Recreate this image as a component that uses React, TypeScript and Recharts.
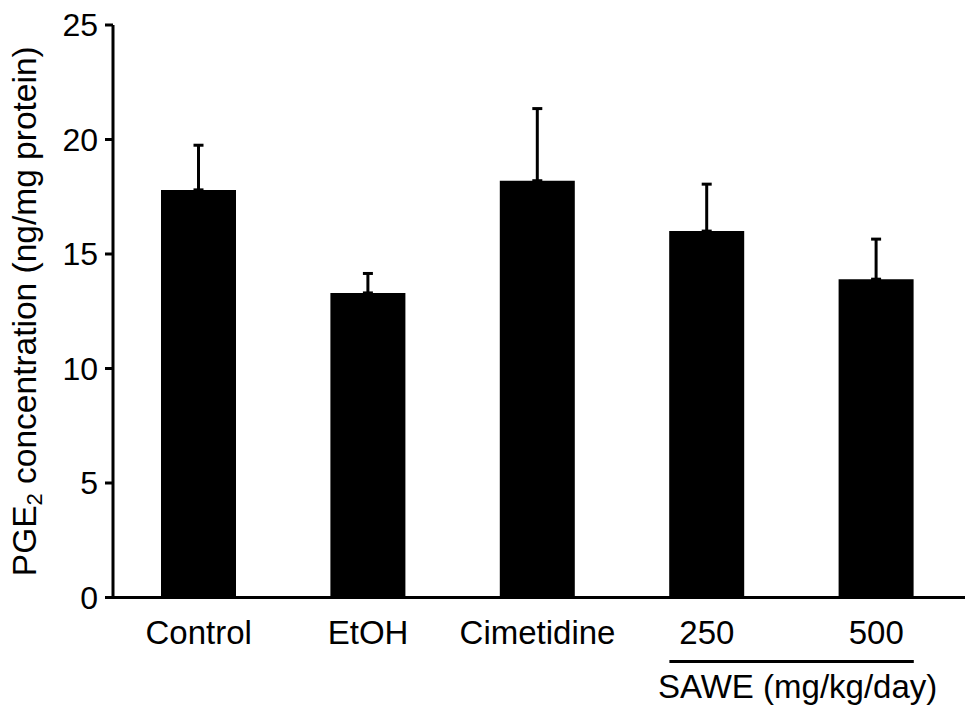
import React from 'react';
import { BarChart, Bar, XAxis, YAxis, ErrorBar } from 'recharts';

const categories = ['Control', 'EtOH', 'Cimetidine', '250', '500'];
const means = [17.8, 13.3, 18.2, 16.0, 13.9];
const sems = [1.95, 0.85, 3.15, 2.05, 1.75];
const yTicks = [0, 5, 10, 15, 20, 25];
const groupMembers = ['250', '500'];
const groupLabel = 'SAWE (mg/kg/day)';

const data = categories.map((c, i) => ({ name: c, value: means[i], err: [0, sems[i]] }));

const FONT = '"Liberation Sans", Arial, Helvetica, sans-serif';
const BAR = 75;
const XFS = 33;

function XTick(props: any) {
  const { x, y, payload } = props;
  const half = payload && payload.offset ? payload.offset : 0;
  const isStart = payload.value === groupMembers[0];
  return (
    <g>
      <text x={x} y={y + 22.5} textAnchor="middle" fontSize={XFS} fontFamily={FONT} fill="#000">
        {payload.value}
      </text>
      {isStart && (
        <g>
          <line x1={x - BAR / 2} x2={x + 2 * half + BAR / 2} y1={y + 40} y2={y + 40} stroke="#000" strokeWidth={3} />
          <text x={x + half + 6} y={y + 76} textAnchor="middle" fontSize={XFS} fontFamily={FONT} fill="#000">
            {groupLabel}
          </text>
        </g>
      )}
    </g>
  );
}

function YLabel(props: any) {
  const vb = props.viewBox || { x: 0, y: 0, width: 0, height: 0 };
  const cx = vb.x + 36;
  const cy = vb.y + vb.height / 2;
  return (
    <text
      x={cx}
      y={cy}
      textAnchor="middle"
      transform={`rotate(-90, ${cx}, ${cy})`}
      fontSize={33.5}
      fontFamily={FONT}
      fill="#000"
    >
      PGE
      <tspan dy={6} fontSize={22}>2</tspan>
      <tspan dy={-6}> concentration (ng/mg protein)</tspan>
    </text>
  );
}

export default function App() {
  return (
    <div style={{ position: 'absolute', left: 0, top: 0 }}>
      <BarChart width={974} height={715} data={data} margin={{ top: 25, right: 9, bottom: 0, left: 0 }}>
        <XAxis
          dataKey="name"
          height={117.5}
          padding={{ left: 1, right: 4 }}
          axisLine={{ stroke: '#000', strokeWidth: 3 }}
          tickLine={false}
          tickSize={0}
          tickMargin={24}
          interval={0}
          tick={(p: any) => <XTick {...p} />}
        />
        <YAxis
          width={113}
          domain={[0, 25]}
          ticks={yTicks}
          interval={0}
          axisLine={{ stroke: '#000', strokeWidth: 3 }}
          tickLine={{ stroke: '#000', strokeWidth: 3 }}
          tickSize={8}
          tickMargin={7}
          tick={{ fontSize: 32, fontFamily: FONT, fill: '#000' }}
          label={{ content: (p: any) => <YLabel {...p} /> }}
        />
        <Bar dataKey="value" fill="#000" barSize={BAR} isAnimationActive={false}>
          <ErrorBar dataKey="err" direction="y" width={5} stroke="#000" strokeWidth={3} isAnimationActive={false} />
        </Bar>
      </BarChart>
    </div>
  );
}
